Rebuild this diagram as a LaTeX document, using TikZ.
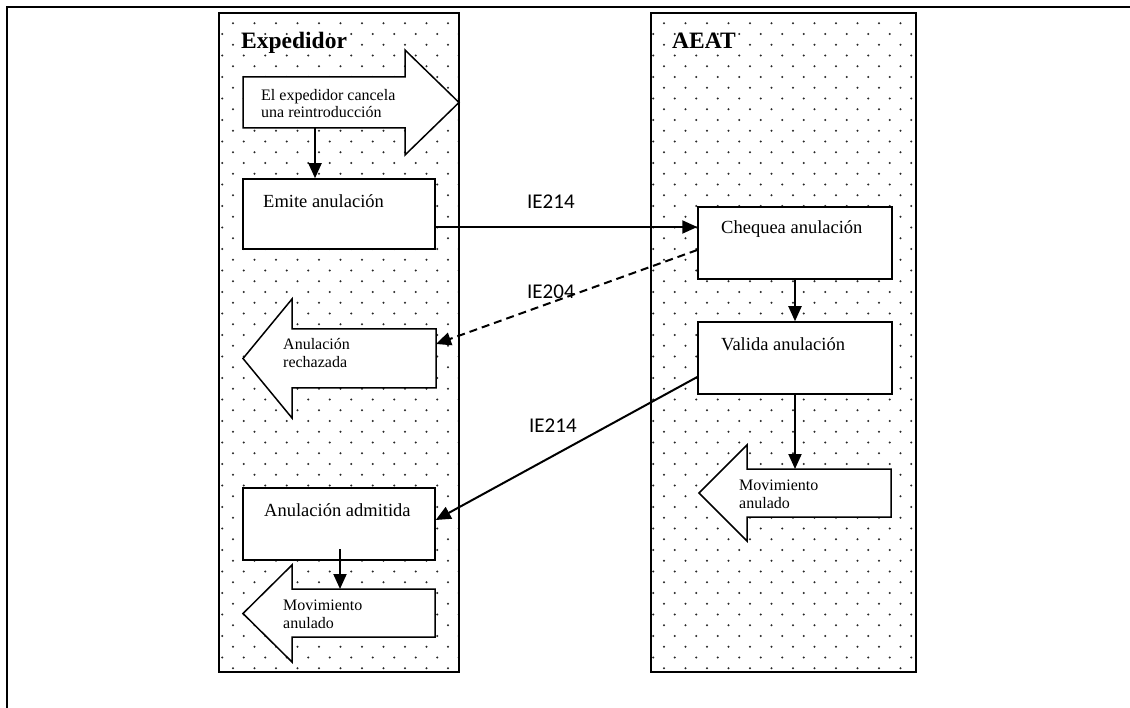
\documentclass[tikz,border=0pt]{standalone}
\usepackage{fontspec}
\setmainfont{Liberation Serif}
\newfontfamily\calfont{Carlito}
\usetikzlibrary{arrows.meta}
\begin{document}
\begin{tikzpicture}[x=1pt,y=-1pt,
  lane/.style={draw=black, line width=2pt},
  box/.style={draw=black, fill=white, line width=1.5pt, minimum width=192pt, minimum height=71pt, inner sep=0pt},
  barrow/.style={draw=black, fill=white, line width=1.5pt, line join=miter},
  conn/.style={line width=2pt, -{Triangle[length=15pt,width=13pt]}},
  dashconn/.style={conn, dash pattern=on 8pt off 5pt},
  bigtxt/.style={anchor=base west, inner sep=0pt, font=\fontsize{18.5}{22}\selectfont},
  smalltxt/.style={anchor=base west, inner sep=0pt, font=\fontsize{16}{19}\selectfont},
  lanetitle/.style={anchor=base west, inner sep=0pt, font=\fontsize{23.5}{28}\selectfont\bfseries},
  msg/.style={anchor=base west, inner sep=0pt, font=\calfont\fontsize{21}{25}\selectfont},
  dotc/.style={fill=black!85}
]
\useasboundingbox (0,0) rectangle (1130,708);
\fill[white] (0,0) rectangle (1130,708);
% outer frame
\draw[line width=1.5pt] (7,708) -- (7,7) -- (1130,7);

% lane dots
\begin{scope}
\clip (219,13) rectangle (459,672);
\foreach \i in {0,...,60}{
  \foreach \j in {-1,...,11}{
    \fill[dotc] ({233+21.5*\j+10.75*mod(\i,2)}, {23.3+10.75*\i}) circle[radius=1.15pt];
  }
}
\end{scope}
\begin{scope}
\clip (651,13) rectangle (916,672);
\foreach \i in {0,...,60}{
  \foreach \j in {-1,...,12}{
    \fill[dotc] ({664+21.5*\j+10.75*mod(\i,2)}, {23.3+10.75*\i}) circle[radius=1.15pt];
  }
}
\end{scope}
\draw[lane] (219,13) rectangle (459,672);
\draw[lane] (651,13) rectangle (916,672);

\node[lanetitle] (texp) at (241,48.5) {Expedidor};
\node[lanetitle] (taeat) at (672,48.5) {AEAT};

% block arrow: cancela
\draw[barrow] (243,77) -- (405,77) -- (405,50) -- (459,102.5) -- (405,155) -- (405,128) -- (243,128) -- cycle;
\coordinate (cancelbot) at (315,128);
\node[smalltxt] (tc1) at (261,101) {El expedidor cancela};
\node[smalltxt] (tc2) at (261,118) {una reintroducción};

% boxes
\node[box, minimum width=192pt, minimum height=70pt] (emite) at (339,214) {};
\node[bigtxt] (temite) at (263,208) {Emite anulación};

\node[box, minimum width=194pt, minimum height=72pt] (cheq) at (795,243) {};
\node[bigtxt] (tcheq) at (721,234) {Chequea anulación};

\node[box, minimum width=194pt, minimum height=72pt] (valida) at (795,358) {};
\node[bigtxt] (tvalida) at (721,351) {Valida anulación};

\node[box, minimum width=192pt, minimum height=72pt] (admit) at (339,524) {};
\node[bigtxt] (tadmit) at (264,516) {Anulación admitida};

% block arrow: rechazada
\draw[barrow] (436,329) -- (292,329) -- (292,299) -- (243,358.5) -- (292,418) -- (292,388) -- (436,388) -- cycle;
\coordinate (rechR) at (436,344);
\node[smalltxt] (tr1) at (283,350) {Anulación};
\node[smalltxt] (tr2) at (283,368) {rechazada};

% block arrow: movimiento anulado (Expedidor)
\draw[barrow] (435,589) -- (292,589) -- (292,565) -- (243,613.5) -- (292,662) -- (292,637) -- (435,637) -- cycle;
\coordinate (movEtop) at (340,589);
\coordinate (admitin) at (340,549);
\node[smalltxt] (tm1) at (283,610) {Movimiento};
\node[smalltxt] (tm2) at (283,628) {anulado};

% block arrow: movimiento anulado (AEAT)
\draw[barrow] (891,469) -- (747,469) -- (747,445) -- (699,493) -- (747,541) -- (747,517) -- (891,517) -- cycle;
\coordinate (movAtop) at (795,469);
\node[smalltxt] (tn1) at (739,490.5) {Movimiento};
\node[smalltxt] (tn2) at (739,508.5) {anulado};

% connectors
\coordinate (ya) at (0,227);
\coordinate (yb) at (0,250);
\coordinate (yc) at (0,377);
\coordinate (yd) at (0,520);
\draw[conn] (cancelbot) -- (cancelbot |- emite.north);
\draw[conn] (emite.east |- ya) -- (cheq.west |- ya);
\draw[dashconn] (cheq.west |- yb) -- (rechR);
\draw[conn] (cheq.south) -- (valida.north);
\draw[conn] (valida.west |- yc) -- (admit.east |- yd);
\draw[conn] (valida.south) -- (movAtop);
\draw[conn] (admitin) -- (movEtop);

\node[msg] (m1) at (527,209) {IE214};
\node[msg] (m2) at (527,299) {IE204};
\node[msg] (m3) at (529,432.5) {IE214};
\end{tikzpicture}
\end{document}
